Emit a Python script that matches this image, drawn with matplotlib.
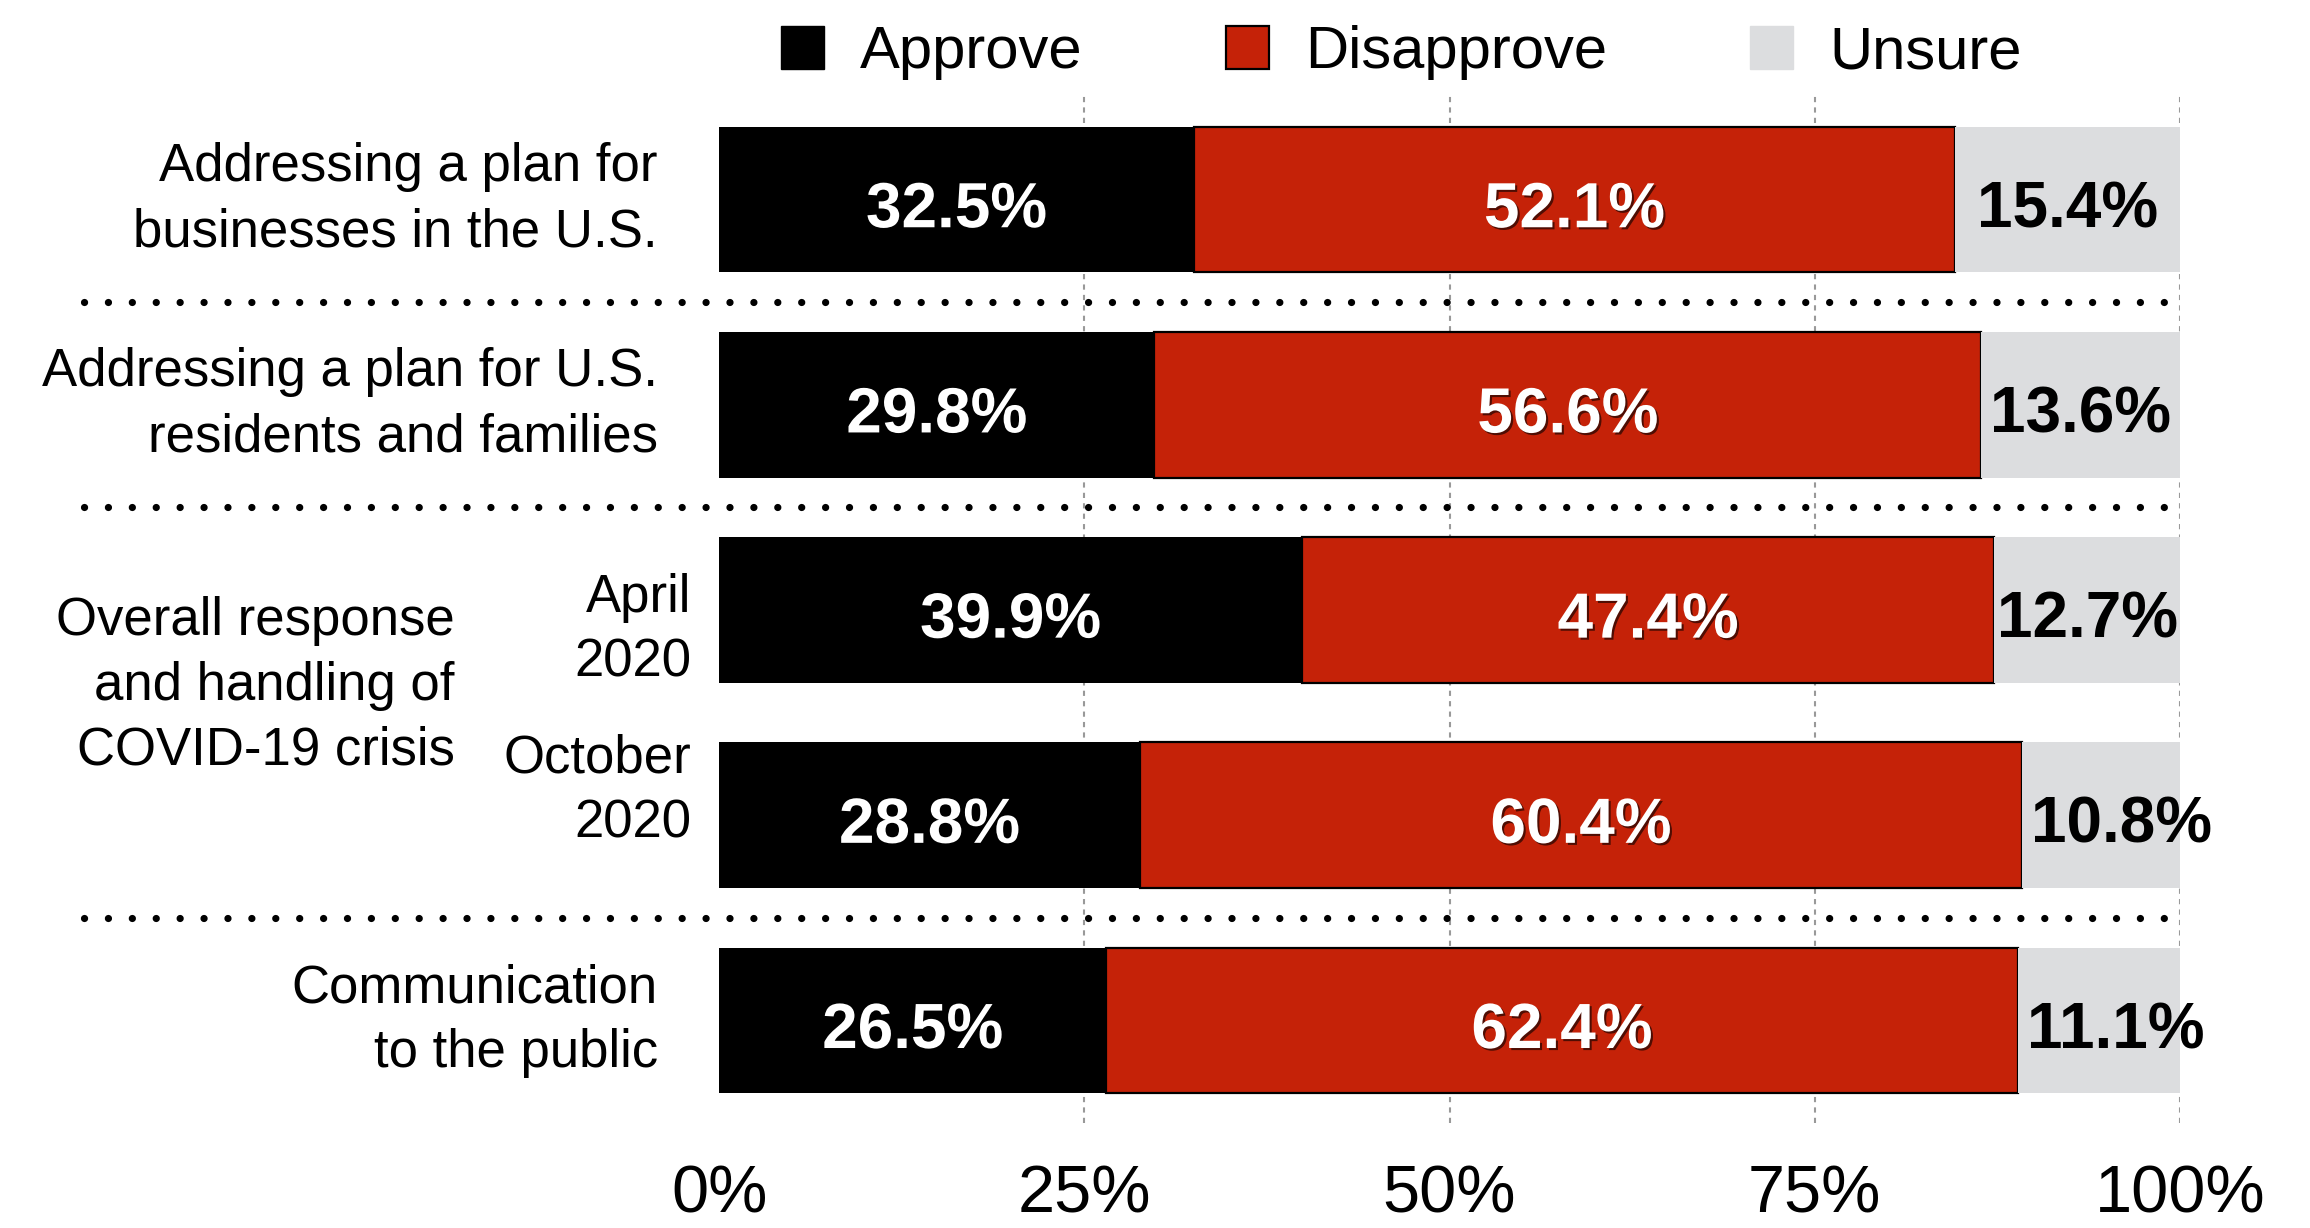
import matplotlib.pyplot as plt
import matplotlib.patheffects as pe
from matplotlib.patches import Patch
import numpy as np

plt.rcParams["font.family"] = ["Liberation Sans", "DejaVu Sans"]

# survey rows, top to bottom
row_labels = ["Addressing a plan for\nbusinesses in the U.S.",
              "Addressing a plan for U.S.\nresidents and families",
              "April\n2020",
              "October\n2020",
              "Communication\nto the public"]
group_label = "Overall response\nand handling of\nCOVID-19 crisis"
approve = [32.5, 29.8, 39.9, 28.8, 26.5]
disapprove = [52.1, 56.6, 47.4, 60.4, 62.4]
unsure = [15.4, 13.6, 12.7, 10.8, 11.1]
series_names = ["Approve", "Disapprove", "Unsure"]
xticks = [0, 25, 50, 75, 100]
xtick_labels = ["0%", "25%", "50%", "75%", "100%"]
sep_after = [0, 1, 3]

black = "#000000"
red = "#c52208"
grey = "#dcdddf"

fig = plt.figure(figsize=(23.1, 12.28), dpi=100)
ax = fig.add_axes([0.3113, 0.0855, 0.6324, 0.8388])

y = np.arange(len(row_labels))
h = 0.71

ax.barh(y, approve, height=h, color=black, zorder=2)
ax.barh(y, disapprove, left=approve, height=h, color=red,
        edgecolor=black, linewidth=1.6, zorder=2)
left2 = np.array(approve) + np.array(disapprove)
ax.barh(y, unsure, left=left2, height=h, color=grey, zorder=2)

shadow = [pe.withSimplePatchShadow(offset=(1.5, -1.5), shadow_rgbFace="black", alpha=0.6)]
for i in range(len(y)):
    a, d, u = approve[i], disapprove[i], unsure[i]
    ty = i + 0.02
    ax.text(a / 2, ty, f"{a:.1f}%", ha="center", va="center_baseline", color="white",
            fontsize=46, fontweight="bold", path_effects=shadow, zorder=4)
    ax.text(a + d / 2, ty, f"{d:.1f}%", ha="center", va="center_baseline", color="white",
            fontsize=46, fontweight="bold", path_effects=shadow, zorder=4)
    # narrow grey segments: label starts just after the red one
    if u < 12:
        ax.text(a + d + 0.6, ty, f"{u:.1f}%", ha="left", va="center_baseline",
                color="black", fontsize=46, fontweight="bold", zorder=4)
    else:
        ax.text(a + d + u / 2, ty, f"{u:.1f}%", ha="center", va="center_baseline",
                color="black", fontsize=46, fontweight="bold", zorder=4)

# dashed vertical guides
for t in xticks[1:]:
    ax.axvline(t, color="#999999", linewidth=1.5, dashes=(2.5, 2.5), zorder=1)

# dotted separators running into the label area
ytr = ax.get_yaxis_transform()
for s in sep_after:
    ax.plot([-0.435, 1.0], [s + 0.5, s + 0.5], transform=ytr, color="black",
            linewidth=5.2, dashes=(0.01, 3.3), dash_capstyle="round", clip_on=False,
            zorder=3)

# row labels
for i, lab in enumerate(row_labels):
    if i in (2, 3):
        dy = 0.1 if i == 2 else -0.12
        ax.text(-0.019, i + dy, lab, transform=ytr, ha="right", va="center",
                fontsize=38, linespacing=1.38, multialignment="right")
    else:
        ax.text(-0.042, i, lab, transform=ytr, ha="right", va="center",
                fontsize=38, linespacing=1.38, multialignment="right")
ax.text(-0.181, 2.37, group_label, transform=ytr, ha="right", va="center",
        fontsize=38, linespacing=1.38, multialignment="right")

ax.set_xlim(0, 100)
ax.set_ylim(4.5, -0.52)
ax.set_xticks(xticks)
ax.set_xticklabels(xtick_labels, fontsize=48)
ax.tick_params(axis="x", length=0, pad=30)
ax.set_yticks([])
for sp in ax.spines.values():
    sp.set_visible(False)

handles = [Patch(facecolor=black, edgecolor=black),
           Patch(facecolor=red, edgecolor=black, linewidth=1.6),
           Patch(facecolor=grey, edgecolor=grey)]
ax.legend(handles, series_names, loc="center", bbox_to_anchor=(0.467, 1.039),
          ncol=3, frameon=False, fontsize=43, handlelength=0.72, handleheight=0.72,
          handletextpad=0.6, columnspacing=2.4, borderpad=0, borderaxespad=0)

fig.savefig("out.png", dpi=100)
